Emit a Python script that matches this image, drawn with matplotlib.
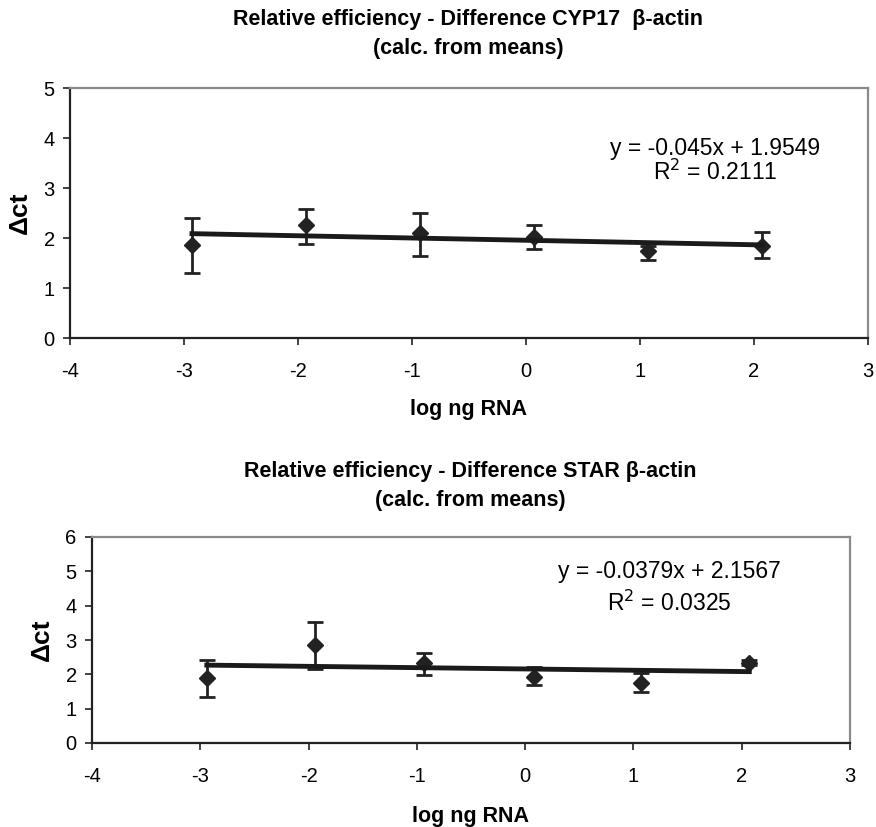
import matplotlib
matplotlib.use("Agg")
import matplotlib.pyplot as plt
import numpy as np

plt.rcParams['font.family'] = ['Liberation Sans', 'DejaVu Sans']
plt.rcParams['axes.unicode_minus'] = False

# ---- data ----
x_top = [-2.93, -1.93, -0.93, 0.07, 1.07, 2.07]
y_top = [1.86, 2.27, 2.10, 2.03, 1.75, 1.85]
err_top_hi = [0.54, 0.32, 0.41, 0.23, 0.10, 0.27]
err_top_lo = [0.55, 0.38, 0.46, 0.24, 0.18, 0.24]
slope_top, icpt_top = -0.045, 1.9549
eq_top = "y = -0.045x + 1.9549"
r2_top = "R$^2$ = 0.2111"
title_top = "Relative efficiency - Difference CYP17  β-actin\n(calc. from means)"

x_bot = [-2.94, -1.94, -0.93, 0.08, 1.07, 2.07]
y_bot = [1.88, 2.84, 2.34, 1.93, 1.76, 2.34]
err_bot_hi = [0.55, 0.68, 0.29, 0.29, 0.27, 0.09]
err_bot_lo = [0.54, 0.68, 0.35, 0.25, 0.26, 0.08]
slope_bot, icpt_bot = -0.0379, 2.1567
eq_bot = "y = -0.0379x + 2.1567"
r2_bot = "R$^2$ = 0.0325"
title_bot = "Relative efficiency - Difference STAR β-actin\n(calc. from means)"

xticks = [-4, -3, -2, -1, 0, 1, 2, 3]

W, H = 876, 827
fig = plt.figure(figsize=(W/100, H/100), dpi=100)

def px_axes(l, t, r, b):
    return fig.add_axes([l/W, 1 - b/H, (r-l)/W, (b-t)/H])

def style(ax, ymax):
    ax.set_xlim(-4, 3)
    ax.set_ylim(0, ymax)
    ax.set_xticks(xticks)
    ax.set_yticks(range(0, ymax+1))
    for s in ['left', 'bottom']:
        ax.spines[s].set_color('#222222')
        ax.spines[s].set_linewidth(1.6)
    for s in ['top', 'right']:
        ax.spines[s].set_color('#8a8a8a')
        ax.spines[s].set_linewidth(1.6)
    ax.tick_params(direction='out', length=5, width=1.2, color='#222222',
                   labelsize=14.5)
    ax.tick_params(axis='x', pad=12)
    ax.tick_params(axis='y', pad=6)

def draw(ax, x, y, lo, hi, slope, icpt, eq, r2, ex, ey1, ey2):
    ax.errorbar(x, y, yerr=[lo, hi], fmt='D', color='#222222', ms=8.5,
                ecolor='#222222', elinewidth=2, capsize=6, capthick=2, zorder=3)
    xs = np.array([min(x), max(x)])
    ax.plot(xs, icpt + slope*xs, color='#1a1a1a', lw=3.5, zorder=4)
    ax.text(ex, ey1, eq, ha='center', va='center', fontsize=16.5)
    ax.text(ex, ey2, r2, ha='center', va='center', fontsize=16.5)

ax1 = px_axes(70, 88, 868, 338)
style(ax1, 5)
draw(ax1, x_top, y_top, err_top_lo, err_top_hi, slope_top, icpt_top,
     eq_top, r2_top, 1.66, 3.8, 3.32)
ax1.set_xlabel("log ng RNA", fontsize=15.5, fontweight='bold', labelpad=13)
ax1.set_ylabel("Δct", fontsize=19, fontweight='bold', labelpad=8)
fig.text(468/W, 1 - 34/H, title_top, ha='center', va='center', fontsize=15.5,
         fontweight='bold', linespacing=1.55)

ax2 = px_axes(92, 537, 850, 743)
style(ax2, 6)
draw(ax2, x_bot, y_bot, err_bot_lo, err_bot_hi, slope_bot, icpt_bot,
     eq_bot, r2_bot, 1.33, 5.0, 4.07)
ax2.set_xlabel("log ng RNA", fontsize=15.5, fontweight='bold', labelpad=15)
ax2.set_ylabel("Δct", fontsize=19, fontweight='bold', labelpad=8)
fig.text(470/W, 1 - 486/H, title_bot, ha='center', va='center', fontsize=15.5,
         fontweight='bold', linespacing=1.55)

fig.savefig("out.png", dpi=100)
